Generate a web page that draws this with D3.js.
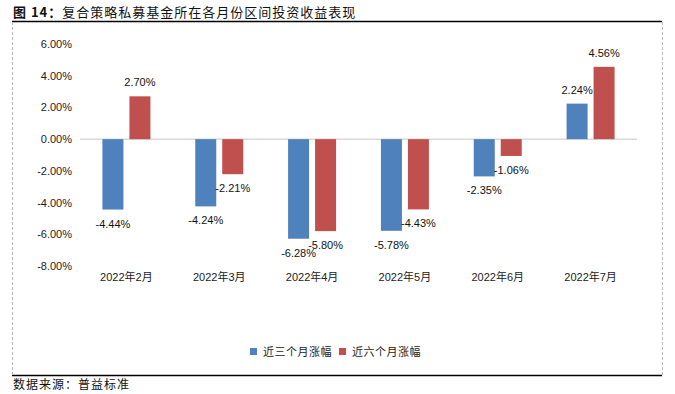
<!DOCTYPE html>
<html>
<head>
<meta charset="utf-8">
<script src="https://cdn.jsdelivr.net/npm/d3@7"></script>
<style>
  body { margin: 0; background: #fff; }
  text { font-family: "Liberation Sans", "Noto Sans CJK SC", sans-serif; }
</style>
</head>
<body>
<div id="chart"></div>
<script>
const months = ["2022年2月", "2022年3月", "2022年4月", "2022年5月", "2022年6月", "2022年7月"]
const seriesNames = ["近三个月涨幅", "近六个月涨幅"]
const threeMonth = [-4.44, -4.24, -6.28, -5.78, -2.35, 2.24]
const sixMonth = [2.70, -2.21, -5.80, -4.43, -1.06, 4.56]
const yTicks = [6, 4, 2, 0, -2, -4, -6, -8]
const colors = ["#4F81BD", "#C0504D"]

const W = 675, H = 394
const svg = d3.select("#chart").append("svg")
  .attr("width", W).attr("height", H)

// frame: title rule, dashed sides, bottom rule
svg.append("text")
  .attr("x", 13).attr("y", 17)
  .attr("font-size", "13px").attr("fill", "#111")
  .style("font-family", "'Noto Sans CJK SC', sans-serif")
  .style("letter-spacing", "1px")
  .html('<tspan font-weight="bold">图 14：</tspan>复合策略私募基金所在各月份区间投资收益表现')

svg.append("line").attr("x1", 12).attr("x2", 662).attr("y1", 21.5).attr("y2", 21.5)
  .attr("stroke", "#000").attr("stroke-width", 1.5)
svg.append("line").attr("x1", 12).attr("x2", 662).attr("y1", 375.5).attr("y2", 375.5)
  .attr("stroke", "#000").attr("stroke-width", 1.5)
svg.selectAll(".side").data([12.5, 662.5]).join("line")
  .attr("class", "side")
  .attr("x1", d => d).attr("x2", d => d).attr("y1", 22).attr("y2", 375)
  .attr("stroke", "#bbb").attr("stroke-dasharray", "3,2")

svg.append("text")
  .attr("x", 13).attr("y", 389)
  .attr("font-size", "12px").attr("fill", "#111")
  .style("font-family", "'Noto Sans CJK SC', sans-serif")
  .style("letter-spacing", "1px")
  .text("数据来源：普益标准")

// scales
var yScale = d3.scaleLinear().domain([-8, 6]).range([266, 44])
var x0 = d3.scaleBand().domain(months).range([80, 637])
  .paddingInner(0.483).paddingOuter(0.2415)
var x1 = d3.scaleBand().domain([0, 1]).range([0, x0.bandwidth()])
  .paddingInner(0.222).paddingOuter(0)

// y axis labels
var yAxis = d3.axisLeft(yScale).tickValues(yTicks)
  .tickFormat(d => d3.format(".2f")(d).replace("−", "-") + "%")
  .tickSize(0).tickPadding(0)
var yg = svg.append("g").attr("transform", "translate(72,0)").call(yAxis)
yg.select(".domain").remove()
yg.selectAll("text").attr("font-size", "11px").attr("fill", "#222")
  .style("font-family", "'Liberation Sans', sans-serif")

// zero line
svg.append("line")
  .attr("x1", 80).attr("x2", 637)
  .attr("y1", yScale(0)).attr("y2", yScale(0))
  .attr("stroke", "#d9d9d9").attr("stroke-width", 1.5)

// x axis labels
var xAxis = d3.axisBottom(x0).tickSize(0).tickPadding(0)
var xg = svg.append("g").attr("transform", "translate(0,273)").call(xAxis)
xg.select(".domain").remove()
xg.selectAll("text").attr("font-size", "11px").attr("fill", "#222")

// bars
const rows = months.map((m, i) => ({ month: m, values: [threeMonth[i], sixMonth[i]] }))
var groups = svg.selectAll(".grp").data(rows).join("g")
  .attr("class", "grp")
  .attr("transform", d => "translate(" + x0(d.month) + ",0)")

groups.selectAll("rect").data(d => d.values.map((v, k) => ({ v, k }))).join("rect")
  .attr("x", d => x1(d.k))
  .attr("width", x1.bandwidth())
  .attr("y", d => yScale(Math.max(0, d.v)))
  .attr("height", d => Math.abs(yScale(d.v) - yScale(0)))
  .attr("fill", d => colors[d.k])

groups.selectAll(".lbl").data(d => d.values.map((v, k) => ({ v, k }))).join("text")
  .attr("class", "lbl")
  .attr("x", d => x1(d.k) + x1.bandwidth() / 2)
  .attr("y", d => d.v >= 0 ? yScale(d.v) - 10 : yScale(d.v) + 18)
  .attr("text-anchor", "middle")
  .attr("font-size", "11px").attr("fill", "#111")
  .text(d => d.v.toFixed(2) + "%")

// legend
var legend = svg.append("g").attr("transform", "translate(250,348)")
var items = legend.selectAll("g").data(seriesNames).join("g")
  .attr("transform", (d, i) => "translate(" + (i * 89) + ",0)")
items.append("rect").attr("width", 7).attr("height", 7).attr("fill", (d, i) => colors[i])
items.append("text").attr("x", 13).attr("y", 7.5)
  .attr("font-size", "11px").attr("fill", "#222")
  .style("font-family", "'Noto Sans CJK SC', sans-serif")
  .style("letter-spacing", "0.5px")
  .text(d => d)
</script>
</body>
</html>
